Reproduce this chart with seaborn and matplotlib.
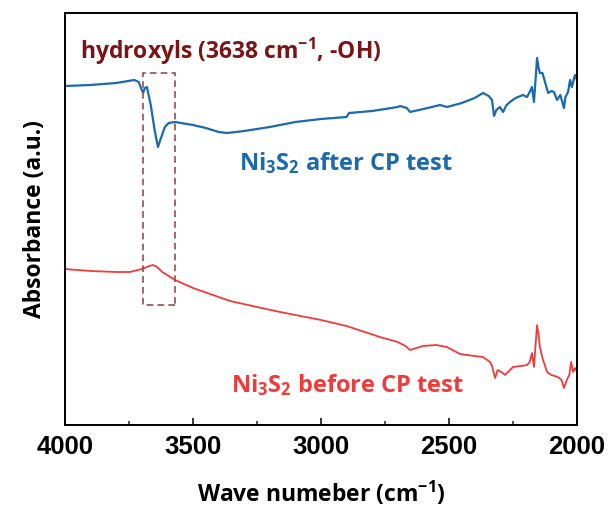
import matplotlib
matplotlib.use("Agg")
import matplotlib.pyplot as plt
from matplotlib.patches import Rectangle
from matplotlib.ticker import MultipleLocator
import numpy as np
import pandas as pd
import seaborn as sns

# FTIR spectra (absorbance in arbitrary units, offset for clarity)
wn_after = [4000, 3900, 3800, 3730, 3712, 3700, 3695, 3688, 3680, 3665, 3650, 3637,
            3625, 3610, 3595, 3570, 3500, 3450, 3400, 3367, 3300, 3200, 3100, 3000,
            2900, 2890, 2800, 2700, 2691, 2665, 2652, 2600, 2535, 2508, 2450, 2400,
            2367, 2345, 2332, 2324, 2315, 2301, 2289, 2275, 2262, 2240, 2211, 2195,
            2185, 2176, 2168, 2162, 2156, 2150, 2145, 2135, 2125, 2113, 2100, 2090,
            2078, 2065, 2051, 2045, 2035, 2027, 2020, 2008, 2000]
abs_after = [3.39, 3.40, 3.42, 3.45, 3.43, 3.35, 3.32, 3.37, 3.38, 3.20, 2.95, 2.78,
             2.87, 2.98, 3.02, 3.03, 3.00, 2.97, 2.93, 2.92, 2.94, 2.98, 3.03, 3.06,
             3.08, 3.12, 3.14, 3.18, 3.19, 3.17, 3.13, 3.16, 3.20, 3.18, 3.22, 3.27,
             3.32, 3.29, 3.25, 3.09, 3.15, 3.18, 3.13, 3.20, 3.23, 3.27, 3.30, 3.28,
             3.33, 3.38, 3.23, 3.45, 3.67, 3.57, 3.52, 3.52, 3.43, 3.32, 3.34, 3.33,
             3.25, 3.30, 3.17, 3.28, 3.33, 3.45, 3.38, 3.50, 3.45]

wn_before = [4000, 3900, 3800, 3746, 3700, 3670, 3656, 3640, 3620, 3570, 3500, 3400,
             3355, 3250, 3160, 3000, 2900, 2770, 2700, 2670, 2652, 2602, 2550, 2508,
             2457, 2400, 2367, 2340, 2332, 2320, 2310, 2295, 2281, 2250, 2220, 2195,
             2185, 2176, 2168, 2162, 2156, 2150, 2145, 2135, 2117, 2100, 2075, 2060,
             2051, 2040, 2030, 2023, 2015, 2008, 2000]
abs_before = [1.56, 1.54, 1.53, 1.53, 1.56, 1.59, 1.60, 1.58, 1.53, 1.45, 1.37, 1.28,
              1.24, 1.18, 1.13, 1.05, 0.99, 0.88, 0.83, 0.79, 0.75, 0.79, 0.80, 0.78,
              0.71, 0.69, 0.68, 0.63, 0.59, 0.47, 0.55, 0.53, 0.50, 0.58, 0.59, 0.60,
              0.63, 0.72, 0.58, 0.80, 1.00, 0.90, 0.78, 0.67, 0.53, 0.50, 0.48, 0.45,
              0.37, 0.45, 0.50, 0.63, 0.53, 0.57, 0.53]

# hydroxyl band window
oh_band = 3638
oh_left, oh_right = 3695, 3570
oh_low, oh_high = 1.20, 3.52

blue = "#1a6aad"
red = "#f23a3a"
darkred = "#7b1414"
boxcol = "#9a4a4a"

sns.set_theme(style="white")
plt.rcParams["font.family"] = ["Open Sans", "DejaVu Sans"]
plt.rcParams["mathtext.fontset"] = "custom"
plt.rcParams["mathtext.rm"] = "Open Sans:bold"
plt.rcParams["mathtext.it"] = "Open Sans:bold"
plt.rcParams["mathtext.bf"] = "Open Sans:bold"

fig = plt.figure(figsize=(6.11, 5.08), dpi=100)
ax = fig.add_axes([65 / 611, 83 / 508, 512 / 611, 412 / 508])

df_after = pd.DataFrame({"wn": wn_after, "abs": abs_after})
df_before = pd.DataFrame({"wn": wn_before, "abs": abs_before})
sns.lineplot(data=df_after, x="wn", y="abs", ax=ax, color=blue, lw=1.6,
             sort=False, estimator=None)
sns.lineplot(data=df_before, x="wn", y="abs", ax=ax, color=red, lw=1.3,
             sort=False, estimator=None)

ax.add_patch(Rectangle((oh_right, oh_low), oh_left - oh_right, oh_high - oh_low,
                       fill=False, ls=(0, (4, 2.5)), lw=1.2, ec=boxcol, zorder=3))

ax.set_xlim(4000, 2000)
ax.set_ylim(0, 4.12)
ax.set_yticks([])
ax.xaxis.set_major_locator(MultipleLocator(500))
ax.xaxis.set_minor_locator(MultipleLocator(250))
ax.tick_params(axis="x", which="major", direction="in", length=5, width=1.3,
               bottom=True, top=False, pad=7)
ax.tick_params(axis="x", which="minor", direction="in", length=3, width=1.1,
               bottom=True, top=False)
for lab in ax.get_xticklabels():
    lab.set_fontfamily("Liberation Sans")
    lab.set_fontweight("bold")
    lab.set_fontsize(18.5)
    lab.set_color("black")
for s in ax.spines.values():
    s.set_color("black")
    s.set_linewidth(1.4)

ax.set_xlabel(r"Wave numeber (cm$^{-1}$)", fontsize=16.5, fontweight="bold",
              color="black", labelpad=15)
ax.set_ylabel("Absorbance (a.u.)", fontsize=16.5, fontweight="bold",
              color="black", labelpad=13)

ax.text(3940, 3.74, "hydroxyls (%d cm$^{-1}$, -OH)" % oh_band, fontsize=16.5,
        fontweight="bold", color=darkred, va="center", ha="left")
ax.text(3320, 2.62, r"Ni$_3$S$_2$ after CP test", fontsize=17,
        fontweight="bold", color=blue, va="center", ha="left")
ax.text(3350, 0.40, r"Ni$_3$S$_2$ before CP test", fontsize=17,
        fontweight="bold", color=red, va="center", ha="left")

fig.savefig("out.png", dpi=100)
